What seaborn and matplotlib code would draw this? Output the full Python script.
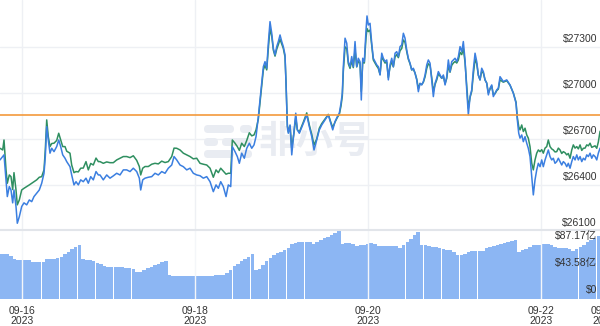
import numpy as np
import pandas as pd
import matplotlib
matplotlib.use("Agg")
import matplotlib.pyplot as plt
import matplotlib.transforms as mtrans
from matplotlib.patches import FancyBboxPatch
import seaborn as sns

# ---------------- data ----------------
# hours after 2023-09-15 00:00
hours = [
    18.00, 18.75, 19.11, 19.67, 20.03, 20.58, 21.05, 21.52, 21.88, 22.44,
    22.80, 23.36, 24.02, 24.66, 25.41, 26.13, 26.80, 27.43, 28.18, 28.90,
    29.57, 30.21, 30.57, 30.96, 31.40, 31.87, 32.35, 32.98, 33.73, 34.29,
    34.84, 35.40, 36.04, 36.51, 37.42, 37.89, 38.53, 39.09, 39.73, 40.39,
    41.11, 41.86, 42.50, 43.17, 43.89, 44.64, 45.28, 45.75, 46.66, 47.61,
    48.52, 49.44, 50.38, 51.30, 52.22, 53.16, 54.08, 54.99, 55.93, 56.66,
    57.04, 57.60, 58.24, 59.15, 60.10, 61.01, 61.93, 62.87, 63.79, 64.70,
    65.65, 66.29, 67.03, 67.95, 68.87, 69.81, 70.73, 71.64, 72.58, 73.50,
    74.42, 75.36, 76.28, 77.19, 77.94, 78.58, 79.24, 79.96, 80.72, 81.35,
    82.02, 82.46, 83.21, 83.85, 84.41, 85.07, 85.79, 86.46, 87.18, 87.85,
    88.48, 89.04, 89.68,
    90.34, 91.07, 91.53, 92.01, 92.45, 92.92, 93.40, 93.84, 94.31, 94.78,
    95.23, 95.70, 96.17, 96.61, 97.08, 97.36, 97.73, 98.00, 98.48, 98.95,
    99.58, 100.06, 100.50, 101.06, 102.17, 103.11, 103.83, 104.50, 105.13, 105.88,
    106.60, 107.27, 108.18, 109.10, 109.77, 110.32, 110.96, 111.60, 112.15, 112.62,
    112.98, 113.26, 113.74, 114.21, 114.65, 115.12, 115.59, 116.03, 116.51, 116.98,
    117.42, 117.89, 118.25, 118.64, 119.09, 119.56, 119.83, 120.20, 120.67, 121.14,
    121.58, 122.06, 122.53, 122.97, 123.45, 123.92, 124.36, 124.83, 125.31, 125.75,
    126.22, 126.69, 127.14, 127.61, 128.08, 128.53, 129.00, 129.47, 129.92, 130.38,
    130.85, 131.30, 131.77, 132.24, 132.69, 133.16, 133.63, 134.08, 134.55, 135.02,
    135.47, 135.94, 136.41, 136.85, 137.32, 137.79, 138.24, 138.71, 139.18, 139.63,
    140.10, 140.57, 141.02, 141.49, 141.96, 142.40, 142.87, 143.34, 143.79, 144.26,
    144.73, 145.18, 145.65, 146.12, 146.56, 147.03, 147.50, 147.95, 148.42, 148.89,
    149.33, 149.81, 150.28, 150.72, 151.19, 151.66, 152.11, 152.58, 153.05, 153.50,
    153.97, 154.44, 154.88, 155.36, 155.83, 156.27, 156.74, 157.66, 158.60, 159.52,
    160.43, 161.18, 161.54,
    161.93, 162.29, 162.76, 163.21, 163.68, 164.15, 164.59, 165.06, 165.54, 165.98,
    166.45, 166.92, 167.37, 167.84, 168.31, 168.75, 169.23, 169.70, 170.14, 170.61,
    171.08, 171.53, 172.00, 172.47, 172.92, 173.39, 173.86, 174.31, 174.78, 175.25,
    175.69, 176.17, 176.64, 177.08, 177.56, 178.03, 178.47, 178.95, 179.42, 179.86,
    180.33, 180.80, 181.25, 181.72, 182.19, 182.63, 183.11, 183.58, 184.02, 184.50,
]

blue_price = [
    26563, 26585, 26596, 26433, 26324, 26389, 26367, 26283, 26367, 26259,
    26150, 26193, 26259, 26283, 26270, 26302, 26291, 26324, 26346, 26367,
    26411, 26476, 26585, 26780, 26693, 26607, 26639, 26617, 26650, 26693,
    26650, 26596, 26574, 26552, 26519, 26465, 26400, 26421, 26400, 26433,
    26421, 26444, 26411, 26454, 26433, 26487, 26465, 26465, 26433, 26465,
    26444, 26459, 26476, 26465, 26498, 26498, 26487, 26509, 26487, 26444,
    26367, 26433, 26444, 26450, 26454, 26476, 26465, 26487, 26476, 26509,
    26530, 26585, 26563, 26530, 26519, 26498, 26509, 26476, 26465, 26460,
    26444, 26454, 26421, 26356, 26400, 26378, 26421, 26389, 26324, 26400,
    26389, 26650, 26617, 26585, 26541, 26607, 26574, 26639, 26672, 26639,
    26661, 26715, 26845,
    26998, 27171, 27204, 27161, 27324, 27465, 27389, 27291, 27248, 27302,
    27335, 27378, 27335, 27302, 27248, 27063, 26780, 26737, 26791, 26596,
    26748, 26868, 26759, 26737, 26802, 26857, 26780, 26715, 26628, 26693,
    26759, 26791, 26824, 26857, 26802, 26759, 26813, 26845, 26868, 26933,
    26998, 27171, 27357, 27324, 27204, 27171, 27237, 27171, 27335, 27171,
    27226, 27204, 26954, 27226, 27204, 27411, 27502, 27443, 27454, 27324,
    27226, 27204, 27183, 27171, 27117, 27259, 27226, 27204, 27215, 27085,
    27183, 27226, 27171, 27259, 27269, 27237, 27302, 27313, 27389, 27357,
    27280, 27226, 27194, 27150, 27161, 27128, 27085, 27008, 27063, 27052,
    27074, 27117, 27183, 27215, 27194, 27085, 26976, 27063, 27096, 27139,
    27117, 27096, 27117, 27052, 27106, 27215, 27139, 27204, 27215, 27226,
    27204, 27237, 27302, 27269, 27335, 27215, 27020, 26857, 26976, 27020,
    27150, 27259, 27204, 27117, 27085, 27161, 27139, 27085, 27063, 26987,
    27031, 27052, 26976, 26998, 27020, 27031, 27106, 27074, 27085, 27052,
    26998, 26933, 26824,
    26737, 26705, 26726, 26682, 26715, 26672, 26639, 26585, 26454, 26335,
    26433, 26498, 26541, 26519, 26563, 26519, 26563, 26596, 26628, 26585,
    26563, 26574, 26541, 26552, 26574, 26552, 26530, 26552, 26541, 26519,
    26541, 26509, 26552, 26585, 26563, 26596, 26563, 26585, 26552, 26574,
    26563, 26596, 26585, 26607, 26574, 26596, 26585, 26563, 26607, 26640,
]

green_price = [
    26639, 26628, 26693, 26498, 26411, 26465, 26454, 26370, 26480, 26367,
    26270, 26302, 26367, 26378, 26389, 26400, 26411, 26421, 26433, 26450,
    26454, 26498, 26628, 26824, 26715, 26650, 26670, 26672, 26690, 26737,
    26693, 26650, 26650, 26620, 26607, 26530, 26480, 26487, 26485, 26509,
    26510, 26552, 26498, 26540, 26530, 26575, 26552, 26552, 26541, 26550,
    26545, 26545, 26563, 26574, 26585, 26585, 26578, 26590, 26560, 26520,
    26465, 26509, 26520, 26520, 26535, 26541, 26537, 26555, 26546, 26552,
    26585, 26640, 26639, 26628, 26607, 26596, 26585, 26570, 26574, 26541,
    26535, 26530, 26509, 26450, 26498, 26480, 26509, 26490, 26470, 26476,
    26476, 26693, 26672, 26650, 26625, 26672, 26650, 26690, 26740, 26720,
    26726, 26759, 26830,
    26985, 27150, 27180, 27150, 27290, 27420, 27370, 27280, 27240, 27285,
    27315, 27350, 27320, 27290, 27235, 27070, 26790, 26745, 26785, 26640,
    26740, 26840, 26760, 26745, 26810, 26870, 26790, 26730, 26660, 26700,
    26770, 26800, 26830, 26860, 26810, 26775, 26810, 26840, 26860, 26915,
    26980, 27140, 27300, 27290, 27190, 27160, 27210, 27165, 27280, 27170,
    27205, 27195, 27010, 27200, 27195, 27360, 27420, 27400, 27410, 27310,
    27215, 27195, 27175, 27160, 27120, 27235, 27215, 27195, 27200, 27100,
    27170, 27205, 27170, 27235, 27250, 27230, 27275, 27290, 27345, 27330,
    27270, 27220, 27190, 27150, 27155, 27130, 27090, 27030, 27060, 27055,
    27070, 27105, 27160, 27190, 27180, 27100, 27010, 27055, 27085, 27125,
    27110, 27095, 27110, 27060, 27095, 27180, 27135, 27180, 27195, 27205,
    27195, 27215, 27265, 27250, 27290, 27200, 27050, 26900, 26970, 27010,
    27120, 27220, 27190, 27115, 27085, 27140, 27130, 27085, 27065, 27000,
    27025, 27045, 26990, 26995, 27015, 27025, 27085, 27070, 27080, 27050,
    27000, 26940, 26840,
    26780, 26759, 26791, 26748, 26770, 26726, 26705, 26650, 26541, 26498,
    26563, 26607, 26628, 26617, 26630, 26607, 26640, 26650, 26693, 26650,
    26635, 26628, 26615, 26617, 26640, 26628, 26605, 26617, 26610, 26596,
    26605, 26574, 26628, 26661, 26640, 26650, 26635, 26661, 26625, 26639,
    26640, 26661, 26655, 26672, 26645, 26650, 26655, 26639, 26680, 26750,
]

ref_price = 26856

# hourly volume (亿 USD), first bar at 2023-09-15 18:00
volume = [
    72, 72, 72, 68, 63.8, 62.4, 61.5, 61.3, 61.1, 58.6,
    58, 58, 58.3, 62.8, 63.1, 62.6, 64.6, 67.1, 71.1, 74.9,
    78.7, 82.5, 86.4, 62.5, 62, 61.6, 59.4, 57.1, 54.9, 52.6,
    50.8, 50.6, 50.4, 50.2, 49.9, 49.4, 48.8, 46.7, 42, 42.5,
    46.3, 48.6, 50.9, 53.2, 55.5, 57.8, 60.1, 37.5, 36.5, 36,
    36, 36.2, 36.1, 36, 36.3, 36.2, 36, 36.4, 36.6, 36.5,
    37, 37.5, 38, 40.3, 45, 51.5, 55.4, 59.4, 63.3, 67.2,
    70.5, 45.6, 47.8, 53.8, 59.4, 65.3, 70.2, 72.5, 74.9, 77.2,
    81.5, 86.5, 88.5, 90.4, 90.9, 90.9, 90.9, 87.5, 90.8, 93,
    96.1, 99.2, 102.3, 105.4, 108.5, 86.7, 89.2, 88.8, 86.8, 84.7,
    85.4, 86.4, 87.5, 89, 86.5, 83.8, 84, 84.2, 83.9, 84,
    83.6, 80.5, 85.6, 90.8, 96, 101.2, 106, 86.2, 85.2, 84.1,
    83, 81.8, 80.6, 79.4, 78.2, 77, 74.1, 70, 70.3, 71.9,
    75.2, 76.5, 76.5, 76.3, 76.6, 80.7, 82.3, 83.9, 85.5, 87.2,
    88.8, 90.4, 92, 93.6, 73.9, 76.9, 79.8, 82.8, 85.6, 86,
    86.4, 86.9, 86.8, 85, 83, 81.5, 80.8, 80.1, 79.4, 75.8,
    79.3, 82.8, 86.3, 89.8, 93.5, 97, 100,
]

price_ticks = [26100, 26400, 26700, 27000, 27300]
vol_ticks = [0, 43.58, 87.17]
vol_tick_labels = ["$0", "$43.58亿", "$87.17亿"]
date_ticks = ["2023-09-16", "2023-09-18", "2023-09-20", "2023-09-22"]
date_labels = ["09-16", "09-18", "09-20", "09-22"]
year_label = "2023"
cut_label = "09-23"

# ---------------- styling ----------------
sns.set_style("white")
plt.rcParams["font.family"] = ["Liberation Sans", "Noto Sans CJK SC", "DejaVu Sans"]

BLUE = "#3b7fe0"
GREEN = "#2f8f60"
ORANGE = "#f39a3c"
GRID = "#eef0f4"
TXT = "#333333"
BAR = "#8cb6f3"

W, H = 600, 326
fig = plt.figure(figsize=(W / 100, H / 100), dpi=100)
fig.patch.set_facecolor("white")

ax = fig.add_axes([0, 96 / H, 1, 230 / H])
axv = fig.add_axes([0, 27.5 / H, 1, 68.5 / H])

base = pd.Timestamp("2023-09-15")
df = pd.DataFrame({
    "time": base + pd.to_timedelta(hours, unit="h"),
    "blue": blue_price,
    "green": green_price,
})
xmin = base + pd.Timedelta(hours=18.0)
xmax = base + pd.Timedelta(hours=184.48)

# grid in price panel
for p in price_ticks:
    ax.axhline(p, color=GRID, lw=1, zorder=0)
for d in date_ticks:
    ax.axvline(pd.Timestamp(d), color=GRID, lw=1, zorder=0)

# watermark (behind the lines)
ident = mtrans.IdentityTransform()
for (x0, y0, w, h) in [(204, 125, 30, 8), (240, 125, 12, 8),
                       (204, 138, 14, 8), (222, 138, 30, 8),
                       (204, 150, 30, 8), (240, 150, 12, 8)]:
    ax.add_patch(FancyBboxPatch((x0, H - y0 - h), w, h,
                                boxstyle="round,pad=0,rounding_size=4",
                                transform=ident, facecolor="#e9ecf2",
                                edgecolor="none", zorder=0.5, clip_on=False))
ax.text(315 / W, 1 - 141 / H, "非小号", transform=fig.transFigure,
        fontsize=27, color="#e9ecf2", ha="center", va="center",
        family=["Noto Sans CJK SC"], fontweight="bold", zorder=0.5)

sns.lineplot(data=df, x="time", y="green", ax=ax, color=GREEN, lw=1.1,
             estimator=None, legend=False, zorder=2)
sns.lineplot(data=df, x="time", y="blue", ax=ax, color=BLUE, lw=1.1,
             estimator=None, legend=False, zorder=3)
ax.axhline(ref_price, color=ORANGE, lw=1.2, zorder=4)

ax.set_xlim(xmin, xmax)
ax.set_ylim(26106, 27606)
ax.set_xticks([])
ax.set_yticks([])
ax.set_xlabel("")
ax.set_ylabel("")
for s in ax.spines.values():
    s.set_visible(False)

for p in price_ticks:
    ax.annotate(f"${p}", xy=(1, p), xycoords=("axes fraction", "data"),
                xytext=(-3, 3), textcoords="offset pixels", ha="right",
                va="bottom", fontsize=7.5, color=TXT, annotation_clip=False,
                zorder=6)

# volume panel
vol_time = pd.date_range(xmin, periods=len(volume), freq="h")
axv.bar(vol_time, volume, width=0.97 / 24, color=BAR, linewidth=0, zorder=1)
for d in date_ticks:
    axv.axvline(pd.Timestamp(d), color="#f4f6f9", lw=1, zorder=2)
axv.set_xlim(xmin, xmax)
axv.set_ylim(0, 109.6)
axv.set_xticks([])
axv.set_yticks([])
for k, s in axv.spines.items():
    s.set_visible(k == "top")
axv.spines["top"].set_color("#e2e5ea")
axv.spines["top"].set_linewidth(1.5)

for v, lab in zip(vol_ticks, vol_tick_labels):
    axv.annotate(lab, xy=(1, v), xycoords=("axes fraction", "data"),
                 xytext=(-3, 3), textcoords="offset pixels", ha="right",
                 va="bottom", fontsize=7.5, color=TXT, annotation_clip=False,
                 zorder=6)

# date labels
bt = mtrans.blended_transform_factory(axv.transData, fig.transFigure)
for d, lab in zip(date_ticks, date_labels):
    axv.text(pd.Timestamp(d), 1 - 311 / H, lab, transform=bt, ha="center",
             va="center", fontsize=7.5, color=TXT, clip_on=False)
    axv.text(pd.Timestamp(d), 1 - 321 / H, year_label, transform=bt,
             ha="center", va="center", fontsize=7.5, color=TXT, clip_on=False)
fig.text(604 / W, 1 - 311 / H, cut_label, ha="center", va="center",
         fontsize=7.5, color=TXT)
fig.text(604 / W, 1 - 321 / H, year_label, ha="center", va="center",
         fontsize=7.5, color=TXT)

fig.savefig("out.png", dpi=100, facecolor="white")
